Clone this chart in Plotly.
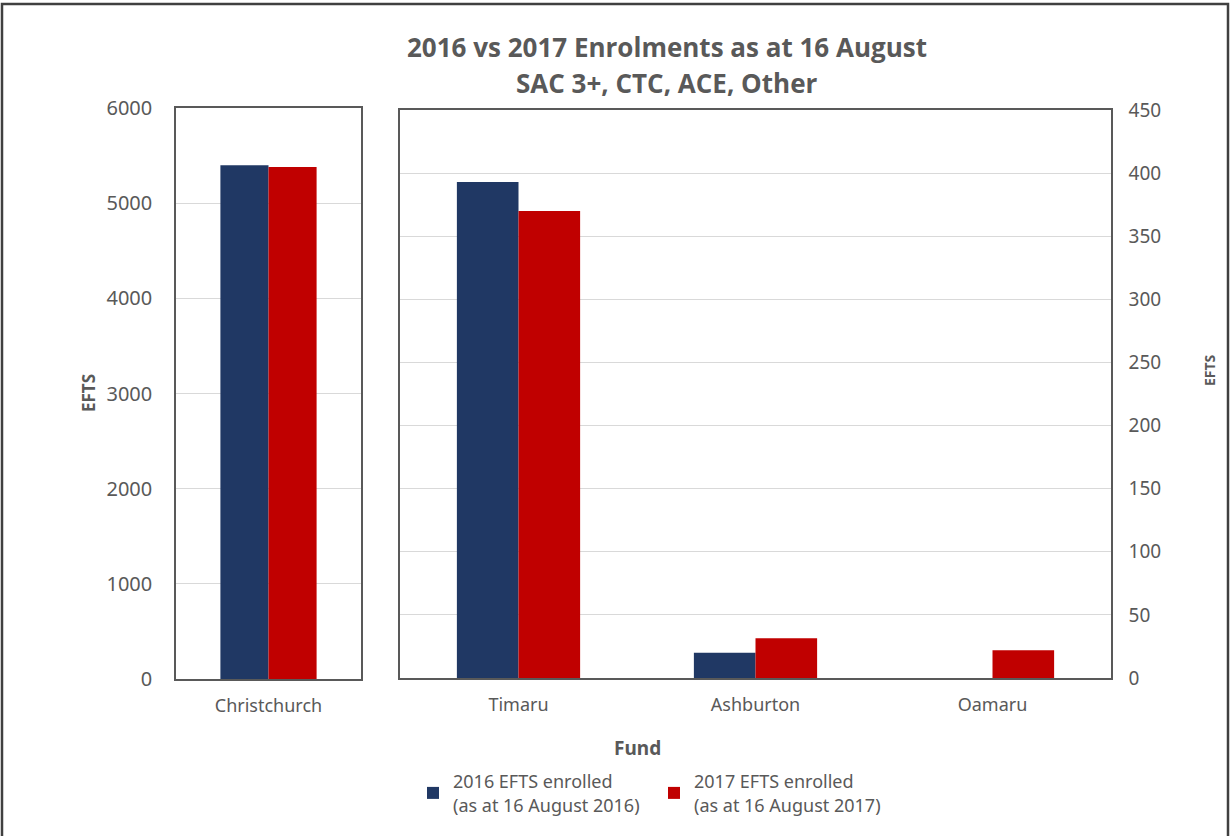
import plotly.graph_objects as go

W, H = 1231, 836

left_cats = ["Christchurch"]
right_cats = ["Timaru", "Ashburton", "Oamaru"]
left_2016 = [5398]
left_2017 = [5380]
right_2016 = [393, 20, 0]
right_2017 = [370, 31.5, 22]
name_2016 = "2016 EFTS enrolled<br>(as at 16 August 2016)"
name_2017 = "2017 EFTS enrolled<br>(as at 16 August 2017)"
left_ticks = [0, 1000, 2000, 3000, 4000, 5000, 6000]
right_ticks = [0, 50, 100, 150, 200, 250, 300, 350, 400, 450]

C16 = "#203864"
C17 = "#C00000"
GRAY = "#595959"
FONT = "Noto Sans"

def px(x):
    return x / W

def py(y):
    return 1 - y / H

fig = go.Figure()
fig.add_trace(go.Bar(x=left_cats, y=left_2016, name=name_2016, marker_color=C16,
                     marker_line_width=0,
                     xaxis="x", yaxis="y", legendgroup="a", showlegend=True))
fig.add_trace(go.Bar(x=left_cats, y=left_2017, name=name_2017, marker_color=C17,
                     marker_line_width=0,
                     xaxis="x", yaxis="y", legendgroup="b", showlegend=True))
fig.add_trace(go.Bar(x=right_cats, y=right_2016, name=name_2016, marker_color=C16,
                     marker_line_width=0,
                     xaxis="x2", yaxis="y2", legendgroup="a", showlegend=False))
fig.add_trace(go.Bar(x=right_cats, y=right_2017, name=name_2017, marker_color=C17,
                     marker_line_width=0,
                     xaxis="x2", yaxis="y2", legendgroup="b", showlegend=False))

axis_common = dict(showline=True, mirror=True, linecolor=GRAY, linewidth=1.5,
                   automargin=False, zeroline=False)

fig.update_layout(
    width=W, height=H,
    margin=dict(l=0, r=0, t=0, b=0),
    paper_bgcolor="white", plot_bgcolor="white",
    barmode="group", bargap=0.48, bargroupgap=0,
    font=dict(family=FONT, color=GRAY),
    xaxis=dict(domain=[px(176), px(361)], anchor="y", showgrid=False,
               tickfont=dict(size=18, color=GRAY), ticks="outside", ticklen=10,
               tickcolor="rgba(0,0,0,0)", **axis_common),
    yaxis=dict(domain=[py(679), py(108)], anchor="x", range=[0, 6000],
               tickvals=left_ticks, showgrid=True, gridcolor="#D9D9D9", gridwidth=1,
               tickfont=dict(size=20, color=GRAY), ticklabelstandoff=18, **axis_common),
    xaxis2=dict(domain=[px(400), px(1111)], anchor="y2", showgrid=False,
                tickfont=dict(size=18, color=GRAY), ticks="outside", ticklen=10,
                tickcolor="rgba(0,0,0,0)", **axis_common),
    yaxis2=dict(domain=[py(678), py(110)], anchor="x2", side="right", range=[0, 450],
                tickvals=right_ticks, showgrid=True, gridcolor="#D9D9D9", gridwidth=1,
                tickfont=dict(size=19, color=GRAY), ticklabelstandoff=12, **axis_common),
    legend=dict(orientation="h", x=px(413), y=py(763), xanchor="left", yanchor="top",
                font=dict(size=18, color=GRAY), entrywidth=196, entrywidthmode="pixels",
                traceorder="normal", bgcolor="rgba(0,0,0,0)"),
    showlegend=True,
)

def ann(text, x, y, size, family=FONT, angle=0):
    fig.add_annotation(text=text, x=px(x), y=py(y), xref="paper", yref="paper",
                       xanchor="center", yanchor="middle", showarrow=False,
                       textangle=angle, font=dict(family=family, size=size, color=GRAY))

ann("<b>2016 vs 2017 Enrolments as at 16 August</b>", 667, 47, 26, "Open Sans")
ann("<b>SAC 3+, CTC, ACE, Other</b>", 667, 83, 26, "Open Sans")
ann("<b>EFTS</b>", 88, 393, 17, angle=-90)
ann("<b>EFTS</b>", 1210, 370, 14, angle=-90)
ann("<b>Fund</b>", 637, 748, 19)

fig.add_shape(type="rect", xref="paper", yref="paper", x0=px(2), x1=px(1228),
              y0=py(860), y1=py(4), line=dict(color="#404040", width=2.5),
              fillcolor="rgba(0,0,0,0)", layer="above")

fig.write_html("out.html", config={"displayModeBar": False},
               post_script="document.body.style.margin='0px';"
                           "document.documentElement.style.overflow='hidden';")
